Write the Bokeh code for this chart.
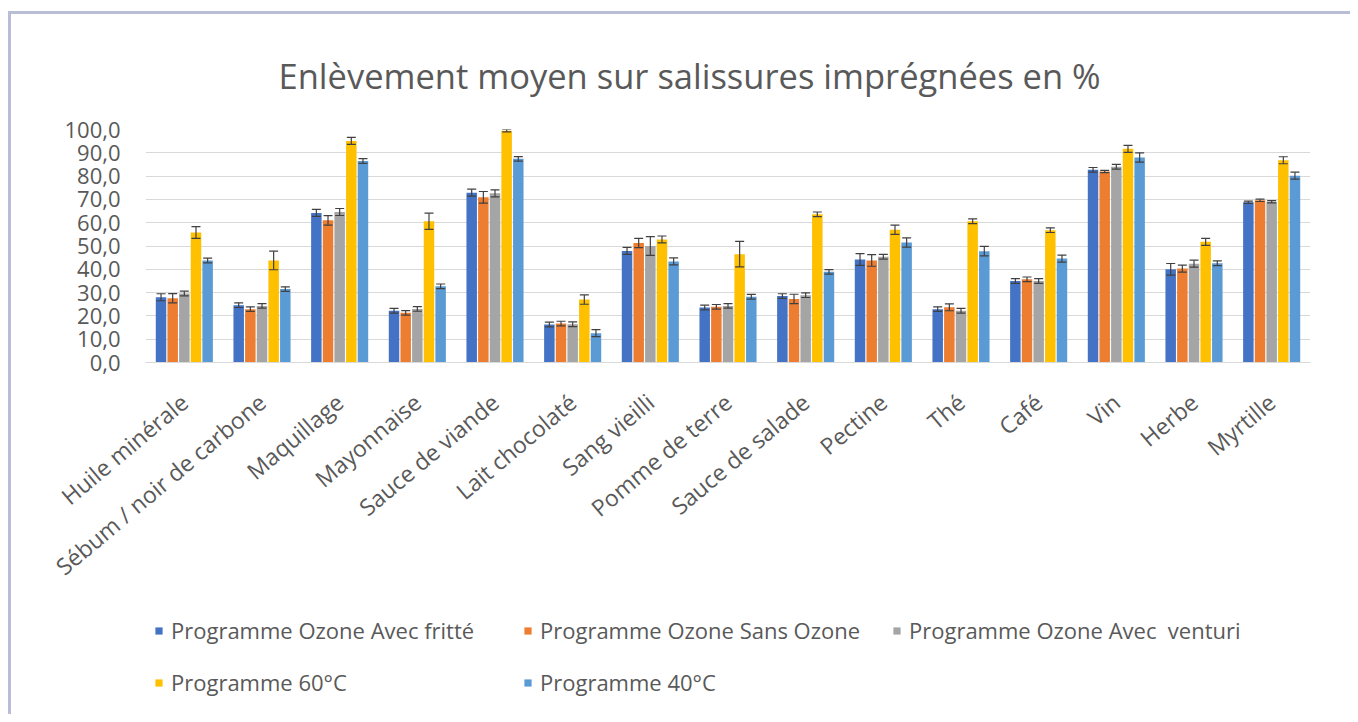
import math
from bokeh.plotting import figure
from bokeh.layouts import column
from bokeh.models import (FactorRange, Range1d, Legend, LegendItem, Whisker, ColumnDataSource,
                          CustomJSTickFormatter, FixedTicker, TeeHead)
from bokeh.transform import dodge
from bokeh.embed import file_html
from bokeh.resources import INLINE

# ---------------- data ----------------
categories = ["Huile minérale", "Sébum / noir de carbone", "Maquillage", "Mayonnaise",
              "Sauce de viande", "Lait chocolaté", "Sang vieilli", "Pomme de terre",
              "Sauce de salade", "Pectine", "Thé", "Café", "Vin", "Herbe", "Myrtille"]

series_names = ["Programme Ozone Avec fritté", "Programme Ozone Sans Ozone",
                "Programme Ozone Avec  venturi", "Programme 60°C", "Programme 40°C"]

avec_fritte = [28.0, 24.6, 64.2, 22.2, 72.9, 16.3, 47.9, 23.6, 28.5, 44.2, 22.9, 35.0, 82.7, 40.0, 68.8]
sans_ozone = [27.6, 22.9, 61.0, 21.3, 70.9, 16.7, 51.3, 23.9, 27.3, 43.8, 23.7, 35.7, 82.0, 40.3, 69.6]
avec_venturi = [29.6, 24.3, 64.6, 23.0, 72.6, 16.4, 50.0, 24.3, 28.9, 45.4, 22.2, 35.0, 84.0, 42.4, 69.0]
prog_60 = [55.8, 43.8, 95.1, 60.6, 99.5, 27.0, 52.8, 46.5, 63.6, 57.0, 60.6, 56.8, 91.7, 51.8, 86.8]
prog_40 = [43.8, 31.5, 86.5, 32.7, 87.4, 12.6, 43.4, 28.2, 38.9, 51.5, 47.8, 44.6, 88.0, 42.6, 80.2]

err_fritte = [1.5, 1.0, 1.5, 1.0, 1.5, 1.0, 1.5, 1.0, 1.0, 2.5, 1.0, 1.0, 1.0, 2.5, 0.5]
err_sans = [2.0, 1.0, 2.0, 1.0, 2.5, 1.0, 2.0, 1.0, 2.0, 2.5, 1.5, 1.0, 0.5, 1.5, 0.5]
err_venturi = [1.0, 1.0, 1.5, 1.0, 1.5, 1.0, 4.0, 1.0, 1.0, 1.0, 1.0, 1.0, 1.0, 1.5, 0.5]
err_60 = [2.5, 4.0, 1.5, 3.5, 0.5, 2.0, 1.5, 5.5, 1.0, 2.0, 1.0, 1.0, 1.5, 1.5, 1.5]
err_40 = [1.0, 1.0, 1.0, 1.0, 1.0, 1.5, 1.5, 1.0, 1.0, 2.0, 2.0, 1.5, 2.0, 1.0, 1.5]

y_ticks = [0, 10, 20, 30, 40, 50, 60, 70, 80, 90, 100]

colors = ["#4472C4", "#ED7D31", "#A5A5A5", "#FFC000", "#5B9BD5"]
offsets = [-0.3, -0.15, 0.0, 0.15, 0.3]

values = [avec_fritte, sans_ozone, avec_venturi, prog_60, prog_40]
errors = [err_fritte, err_sans, err_venturi, err_60, err_40]

data = dict(cat=categories)
for i, (v, e) in enumerate(zip(values, errors)):
    data[f"v{i}"] = v
    data[f"u{i}"] = [a + b for a, b in zip(v, e)]
    data[f"l{i}"] = [a - b for a, b in zip(v, e)]
src = ColumnDataSource(data)

FONT = "Open Sans"
TXT = "#595959"

p = figure(x_range=FactorRange(factors=categories, range_padding=0),
           y_range=Range1d(0, 100),
           width=1339, height=600, output_backend="svg", toolbar_location=None,
           min_border_left=134, min_border_right=40, min_border_top=115, min_border_bottom=252)

p.title.text = "Enlèvement moyen sur salissures imprégnées en %"
p.title.align = "left"
p.title.offset = 133
p.title.standoff = 61
p.title.text_font = FONT
p.title.text_font_size = "34.5px"
p.title.text_font_style = "normal"
p.title.text_color = TXT

p.outline_line_color = None
p.background_fill_color = "white"
p.border_fill_color = "white"
p.xgrid.grid_line_color = None
p.ygrid.grid_line_color = "#d9d9d9"
p.ygrid.grid_line_width = 1

p.yaxis.ticker = FixedTicker(ticks=y_ticks)
p.yaxis.formatter = CustomJSTickFormatter(code="return tick.toFixed(1).replace('.', ',');")
p.yaxis.axis_line_color = None
p.yaxis.major_tick_line_color = None
p.yaxis.minor_tick_line_color = None
p.yaxis.major_label_standoff = 19
p.yaxis.major_label_text_font = FONT
p.yaxis.major_label_text_font_size = "22px"
p.yaxis.major_label_text_color = TXT

p.xaxis.axis_line_color = "#d9d9d9"
p.xaxis.major_tick_line_color = None
p.xaxis.minor_tick_line_color = None
p.xaxis.major_label_orientation = 0.70
p.xaxis.major_label_text_font = FONT
p.xaxis.major_label_text_font_size = "23px"
p.xaxis.major_label_text_color = TXT
p.xaxis.major_label_standoff = 30

for i in range(5):
    p.vbar(x=dodge("cat", offsets[i], range=p.x_range), top=f"v{i}", width=0.135,
           source=src, fill_color=colors[i], line_color=None)
    w = Whisker(source=src, base=dodge("cat", offsets[i], range=p.x_range),
                upper=f"u{i}", lower=f"l{i}", line_color="#404040", line_width=1.2,
                upper_head=TeeHead(size=9, line_color="#404040", line_width=1.2),
                lower_head=TeeHead(size=9, line_color="#404040", line_width=1.2),
                level="overlay")
    p.add_layout(w)

# ---------------- legend strip ----------------
lg = figure(width=1339, height=100, output_backend="svg", toolbar_location=None,
            x_range=Range1d(0, 1), y_range=Range1d(0, 1),
            min_border_left=0, min_border_right=0, min_border_top=0, min_border_bottom=0)
lg.axis.visible = False
lg.grid.grid_line_color = None
lg.outline_line_color = None
lg.border_fill_color = "white"

# legend swatches only: a placeholder bar that sits outside the visible range
leg_src = ColumnDataSource(dict(x=[-5.0], top=[-5.0]))
items = []
for i in range(5):
    r = lg.vbar(x="x", top="top", bottom=-6.0, width=0.1, source=leg_src,
                fill_color=colors[i], line_color=None)
    items.append(LegendItem(label=series_names[i], renderers=[r]))

legend = Legend(items=items, location=(9, 17), orientation="horizontal", ncols=3,
                glyph_width=9, glyph_height=9, label_standoff=8, label_width=330,
                spacing=22, padding=0, margin=0, border_line_color=None,
                background_fill_alpha=0, label_text_font=FONT,
                label_text_font_size="22px", label_text_color=TXT)
lg.add_layout(legend, "center")

layout = column(p, lg, spacing=0)
layout.styles = {"border-top": "3px solid #babdd6", "border-left": "3px solid #babdd6",
                 "margin-top": "11px", "margin-left": "8px"}

open("out.html", "w").write(file_html(layout, INLINE))
